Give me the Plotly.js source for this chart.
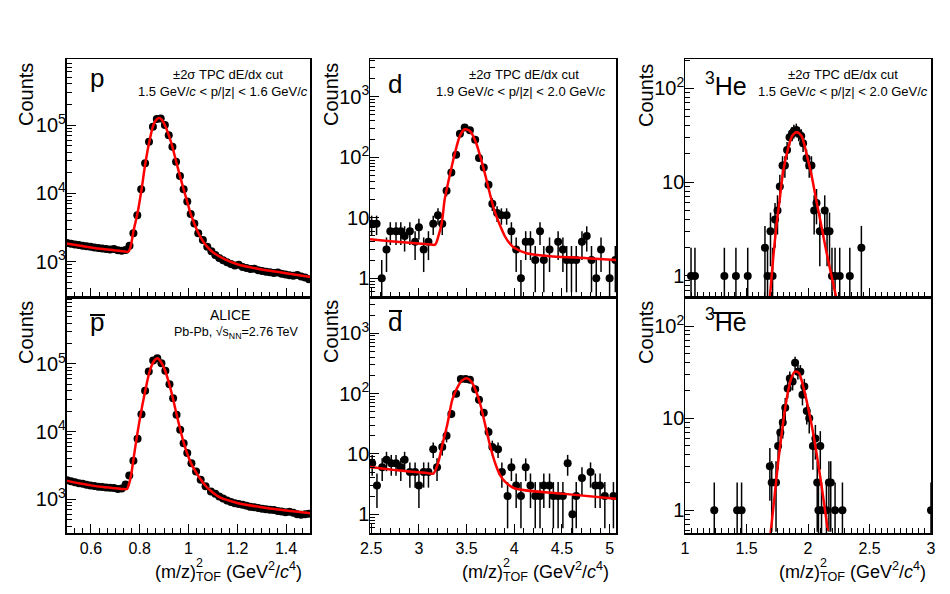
<!DOCTYPE html>
<html>
<head>
<meta charset="utf-8">
<script src="https://cdn.plot.ly/plotly-3.0.1.min.js"></script>
<style>html,body{margin:0;padding:0;background:#fff}#chart{width:950px;height:594px}</style>
</head>
<body>
<div id="chart"></div>
<script>
// ---------- data ----------
const pMass = [0.502,0.518,0.534,0.550,0.566,0.582,0.598,0.614,0.630,0.646,0.662,0.678,0.694,0.710,0.726,0.742,0.758,0.774,0.790,0.806,0.822,0.838,0.854,0.870,0.886,0.903,0.919,0.934,0.949,0.965,0.980,0.995,1.009,1.024,1.040,1.059,1.077,1.094,1.110,1.126,1.142,1.158,1.174,1.190,1.206,1.222,1.238,1.254,1.270,1.286,1.302,1.318,1.334,1.350,1.366,1.382,1.398,1.414,1.430,1.446,1.462,1.478,1.494];
const pCounts = [1880,1830,1790,1760,1720,1690,1650,1610,1590,1560,1540,1510,1530,1470,1450,1480,1720,2600,4800,11500,27500,57000,94500,122000,125000,100000,71000,48000,29000,18000,11500,7600,5000,3630,2600,2080,1660,1420,1250,1130,1050,980,930,880,900,840,810,780,790,750,730,715,700,685,695,665,650,635,625,640,610,590,555];
const pFitMass = [0.5,0.55,0.6,0.65,0.7,0.74,0.752,0.760,0.766,0.774,0.792,0.808,0.822,0.838,0.856,0.870,0.880,0.890,0.903,0.919,0.934,0.949,0.965,0.980,0.995,1.009,1.024,1.040,1.059,1.077,1.10,1.15,1.2,1.3,1.4,1.5];
const pFitCounts = [1850,1730,1620,1530,1460,1410,1400,1550,1900,2750,5400,11800,26000,54000,100000,122000,127000,120000,100000,71000,48000,29500,18000,11500,7500,5000,3600,2650,2000,1650,1380,1080,920,770,680,600];

const pbarMass = [0.502,0.518,0.534,0.550,0.566,0.582,0.598,0.614,0.630,0.646,0.662,0.678,0.694,0.710,0.726,0.742,0.757,0.774,0.791,0.807,0.822,0.837,0.855,0.872,0.889,0.905,0.922,0.937,0.951,0.966,0.980,0.995,1.012,1.031,1.050,1.070,1.092,1.110,1.126,1.142,1.158,1.174,1.190,1.206,1.222,1.238,1.254,1.270,1.286,1.302,1.318,1.334,1.350,1.366,1.382,1.398,1.414,1.430,1.446,1.462,1.478,1.494];
const pbarCounts = [1900,1840,1780,1720,1690,1640,1600,1570,1530,1520,1490,1470,1460,1420,1440,1650,2240,3700,7800,18000,40000,77000,112000,121000,102000,79000,50000,31000,17700,10600,6700,4800,3400,2560,1940,1560,1300,1200,1100,1020,960,910,870,850,830,800,770,760,740,720,710,700,690,670,660,640,650,630,600,590,600,610];
const pbarFitMass = [0.5,0.55,0.6,0.65,0.7,0.735,0.748,0.753,0.760,0.767,0.781,0.801,0.822,0.842,0.860,0.872,0.889,0.905,0.922,0.937,0.951,0.966,0.980,0.995,1.012,1.031,1.050,1.070,1.092,1.129,1.2,1.3,1.4,1.5];
const pbarFitCounts = [1880,1720,1600,1510,1450,1410,1420,1560,1900,2570,5700,15800,39000,81000,112000,121000,104000,78000,49000,30000,18000,10800,6900,4700,3300,2500,1950,1580,1320,1060,880,760,680,620];

const dMass = [2.504,2.556,2.61,2.66,2.70,2.76,2.81,2.85,2.905,2.96,3.00,3.05,3.10,3.15,3.20,3.245,3.29,3.34,3.39,3.43,3.48,3.535,3.59,3.63,3.68,3.73,3.77,3.82,3.865,3.92,3.97,4.02,4.07,4.12,4.17,4.22,4.27,4.31,4.37,4.46,4.51,4.55,4.60,4.65,4.71,4.76,4.81,4.86,4.91,5.00,5.06];
const dCounts = [8,8,1,3,6,6,6,5,6,4,7,3,4,8,11,8,28,56,110,245,310,280,195,97,68,35,17,12,11,11,6,3,1,4,4,2,6,2,3,4,3,2,2,2,4,5,2,1,3,1,2];
const dFitMass = [2.487,2.7,2.9,3.1,3.17,3.205,3.24,3.27,3.3,3.33,3.38,3.43,3.48,3.52,3.55,3.6,3.65,3.7,3.75,3.8,3.85,3.9,3.95,4.0,4.13,4.41,4.76,5.067];
const dFitCounts = [4.4,4.1,3.85,3.65,3.6,5.0,8.3,20,34,56,121,225,290,280,255,172,95,48,23,12,7.5,5.0,3.8,3.2,2.6,2.3,2.15,2.0];

const dbarMass = [2.51,2.56,2.615,2.66,2.71,2.76,2.81,2.85,2.905,2.96,3.00,3.05,3.10,3.15,3.19,3.245,3.29,3.34,3.39,3.44,3.49,3.535,3.59,3.63,3.68,3.73,3.77,3.83,3.87,3.93,3.97,4.02,4.07,4.12,4.17,4.22,4.27,4.31,4.37,4.41,4.46,4.51,4.56,4.61,4.65,4.71,4.80,4.85,4.90,4.95,5.04];
const dbarCounts = [7,3,6,8,7,7,6,8,5,5,3,5,5,12,6,13,20,46,99,174,174,170,118,79,48,23,13,12,5,2,6,3,2,6,3,2,2,3,3,2,2,2,7,1,2,4,5,3,3,2,2];
const dbarFitMass = [2.487,2.8,3.1,3.15,3.2,3.25,3.3,3.35,3.4,3.45,3.5,3.55,3.6,3.65,3.7,3.75,3.8,3.85,3.9,4.0,4.5,5.067];
const dbarFitCounts = [6.1,5.3,4.8,4.7,7,15,32,79,123,164,180,158,108,61,28,13,7,4.5,3.5,2.7,2.2,1.8];

const heMass = [1.049,1.081,1.320,1.414,1.510,1.650,1.671,1.695,1.712,1.732,1.752,1.771,1.793,1.812,1.830,1.850,1.870,1.885,1.905,1.925,1.945,1.960,1.988,2.010,2.028,2.050,2.069,2.096,2.136,2.155,2.175,2.195,2.220,2.258,2.340,2.434];
const heCounts = [1,1,1,1,1,2,1,3,1,4,5,9,15,15,22,30,33,35,36,33,31,26,18,15,15,5,6,3,5,3,3,1,1,1,1,2];
const heFitMass = [1.685,1.717,1.744,1.771,1.798,1.839,1.871,1.906,1.947,1.988,2.028,2.069,2.109,2.15,2.19,2.235];
const heFitCounts = [0.5,1.55,3.5,6.7,13,23,31,34,31,20,12,6.2,3.4,1.8,1.02,0.55];

const hebarMass = [1.238,1.424,1.460,1.690,1.705,1.740,1.757,1.775,1.795,1.815,1.835,1.852,1.875,1.895,1.918,1.938,1.955,1.970,1.990,2.010,2.040,2.060,2.075,2.085,2.100,2.110,2.150,2.170,2.185,2.220,2.280,3.000];
const hebarCounts = [1,1,1,3,2,2,5,7,9,13,21,27,25,40,32,32,18,22,12,10,5,6,2,1,5,1,1,2,2,1,1,1];
const hebarFitMass = [1.695,1.73,1.757,1.785,1.81,1.839,1.866,1.893,1.925,1.96,2.0,2.04,2.08,2.12,2.15,2.16];
const hebarFitCounts = [0.55,1.5,3.3,6.6,11.7,20,27.6,32,31,22.4,13.2,7.1,3.4,1.5,0.78,0.6];

const pTicks = [0.6,0.8,1,1.2,1.4];
const dTicks = [2.5,3,3.5,4,4.5,5];
const heTicks = [1,1.5,2,2.5,3];

// ---------- layout helpers (pixel -> paper) ----------
const W = 950, H = 594;
const X = v => v / W;
const Y = v => 1 - v / H;
const FONT = 'Liberation Sans, Arial, Helvetica, sans-serif';

function dataTrace(x, y, xa, ya) {
  return {x: x, y: y, xaxis: xa, yaxis: ya, type: 'scatter', mode: 'markers',
    marker: {color: '#000', size: 8},
    error_y: {type: 'sqrt', color: '#000', thickness: 1.5, width: 0},
    hoverinfo: 'skip'};
}
function fitTrace(x, y, xa, ya) {
  return {x: x, y: y, xaxis: xa, yaxis: ya, type: 'scatter', mode: 'lines',
    line: {color: '#ff0000', width: 2.5, shape: 'spline', smoothing: 0.8},
    hoverinfo: 'skip'};
}

const traces = [
  dataTrace(pMass, pCounts, 'x', 'y'),
  dataTrace(dMass, dCounts, 'x2', 'y2'),
  dataTrace(heMass, heCounts, 'x3', 'y3'),
  dataTrace(pbarMass, pbarCounts, 'x4', 'y4'),
  dataTrace(dbarMass, dbarCounts, 'x5', 'y5'),
  dataTrace(hebarMass, hebarCounts, 'x6', 'y6'),
  fitTrace(pFitMass, pFitCounts, 'x', 'y'),
  fitTrace(dFitMass, dFitCounts, 'x2', 'y2'),
  fitTrace(heFitMass, heFitCounts, 'x3', 'y3'),
  fitTrace(pbarFitMass, pbarFitCounts, 'x4', 'y4'),
  fitTrace(dbarFitMass, dbarFitCounts, 'x5', 'y5'),
  fitTrace(hebarFitMass, hebarFitCounts, 'x6', 'y6')
];

const colDom = [[X(66.6), X(310.4)], [X(370), X(616)], [X(685), X(931)]];
const topDom = [0.5, Y(59)];
const botDom = [Y(533), 0.5];

function xAxis(dom, range, ticks, minorDt, anchor, labels) {
  return {domain: dom, range: range, anchor: anchor, type: 'linear',
    tickmode: 'array', tickvals: ticks, ticks: 'inside', ticklen: 9, tickwidth: 1, tickcolor: '#000',
    minor: {ticks: 'inside', ticklen: 5, tickwidth: 1, tickcolor: '#000', tickmode: 'linear', tick0: ticks[0], dtick: minorDt, showgrid: false},
    showticklabels: labels, tickfont: {family: FONT, size: 16, color: '#000'},
    showline: true, linecolor: '#000', linewidth: 1.5, mirror: true,
    showgrid: false, zeroline: false, fixedrange: true};
}
function yAxis(dom, range, anchor) {
  return {domain: dom, range: range, anchor: anchor, type: 'log',
    dtick: 1, exponentformat: 'power', ticks: 'inside', ticklen: 9, tickwidth: 1, tickcolor: '#000',
    minor: {ticks: 'inside', ticklen: 5, tickwidth: 1, tickcolor: '#000', dtick: 'D1', showgrid: false},
    tickfont: {family: FONT, size: 16, color: '#000'}, ticklabelstandoff: -4,
    showline: true, linecolor: '#000', linewidth: 1.5, mirror: true,
    showgrid: false, zeroline: false, fixedrange: true};
}

const pR = [0.5, 1.5], dR = [2.487, 5.067], heR = [1, 3];

const ann = [];
function txt(text, x, y, size, xanchor, yanchor, extra) {
  ann.push(Object.assign({text: text, xref: 'paper', yref: 'paper', x: X(x), y: Y(y),
    xanchor: xanchor, yanchor: yanchor, showarrow: false,
    font: {family: FONT, size: size, color: '#000'}}, extra || {}));
}
// panel labels
txt('p', 88, 95, 26, 'left', 'bottom');
txt('d', 386, 101, 26, 'left', 'bottom');
txt('<sup>3</sup>He', 703, 102, 25, 'left', 'bottom');
txt('p', 88, 339, 26, 'left', 'bottom');
txt('d', 386, 339, 26, 'left', 'bottom');
txt('<sup>3</sup>He', 703, 338, 25, 'left', 'bottom');
// cut texts
txt('±2σ TPC dE/dx cut', 227.5, 74, 13, 'center', 'middle');
txt('1.5 GeV/<i>c</i> < p/|z| < 1.6 GeV/<i>c</i>', 222.5, 92, 13, 'center', 'middle');
txt('±2σ TPC dE/dx cut', 524, 74, 13, 'center', 'middle');
txt('1.9 GeV/<i>c</i> < p/|z| < 2.0 GeV/<i>c</i>', 521, 92, 13, 'center', 'middle');
txt('±2σ TPC dE/dx cut', 842.5, 74, 13, 'center', 'middle');
txt('1.5 GeV/<i>c</i> < p/|z| < 2.0 GeV/<i>c</i>', 842.5, 92, 13, 'center', 'middle');
txt('ALICE', 230, 315, 14, 'center', 'middle');
txt('Pb-Pb, √s<sub>NN</sub>=2.76 TeV', 236, 333, 12.5, 'center', 'middle');
// y titles
[[26, 95], [26, 333], [331, 95], [331, 332], [646, 96], [646, 333]].forEach(function (c) {
  txt('Counts', c[0], c[1], 20, 'center', 'middle', {textangle: -90});
});
// x titles
[153, 460, 777].forEach(function (x0) {
  txt('(m/z)<sub>TOF</sub> (GeV<sup>2</sup>/<i>c</i><sup>4</sup>)', x0, 571, 18, 'left', 'middle');
  txt('2', x0 + 41, 563, 12.5, 'left', 'middle');
});

const shp = [];
function bar(x0, x1, y) {
  shp.push({type: 'line', xref: 'paper', yref: 'paper', x0: X(x0), x1: X(x1), y0: Y(y), y1: Y(y),
    line: {color: '#000', width: 2}});
}
bar(90, 105, 315);
bar(389, 402, 311);
bar(713, 743, 313);

const layout = {
  width: W, height: H, margin: {l: 0, r: 0, t: 0, b: 0},
  paper_bgcolor: '#fff', plot_bgcolor: '#fff', showlegend: false,
  font: {family: FONT, color: '#000'},
  xaxis: xAxis(colDom[0], pR, pTicks, 0.2 / 6, 'y', false),
  xaxis2: xAxis(colDom[1], dR, dTicks, 0.1, 'y2', false),
  xaxis3: xAxis(colDom[2], heR, heTicks, 0.05, 'y3', false),
  xaxis4: xAxis(colDom[0], pR, pTicks, 0.2 / 6, 'y4', true),
  xaxis5: xAxis(colDom[1], dR, dTicks, 0.1, 'y5', true),
  xaxis6: xAxis(colDom[2], heR, heTicks, 0.05, 'y6', true),
  yaxis: yAxis(topDom, [2.484, 5.966], 'x'),
  yaxis2: yAxis(topDom, [-0.309, 3.623], 'x2'),
  yaxis3: yAxis(topDom, [-0.224, 2.312], 'x3'),
  yaxis4: yAxis(botDom, [2.50, 5.99], 'x4'),
  yaxis5: yAxis(botDom, [-0.31, 3.60], 'x5'),
  yaxis6: yAxis(botDom, [-0.246, 2.315], 'x6'),
  annotations: ann,
  shapes: shp
};

Plotly.newPlot('chart', traces, layout, {displayModeBar: false, staticPlot: true});
</script>
</body>
</html>
